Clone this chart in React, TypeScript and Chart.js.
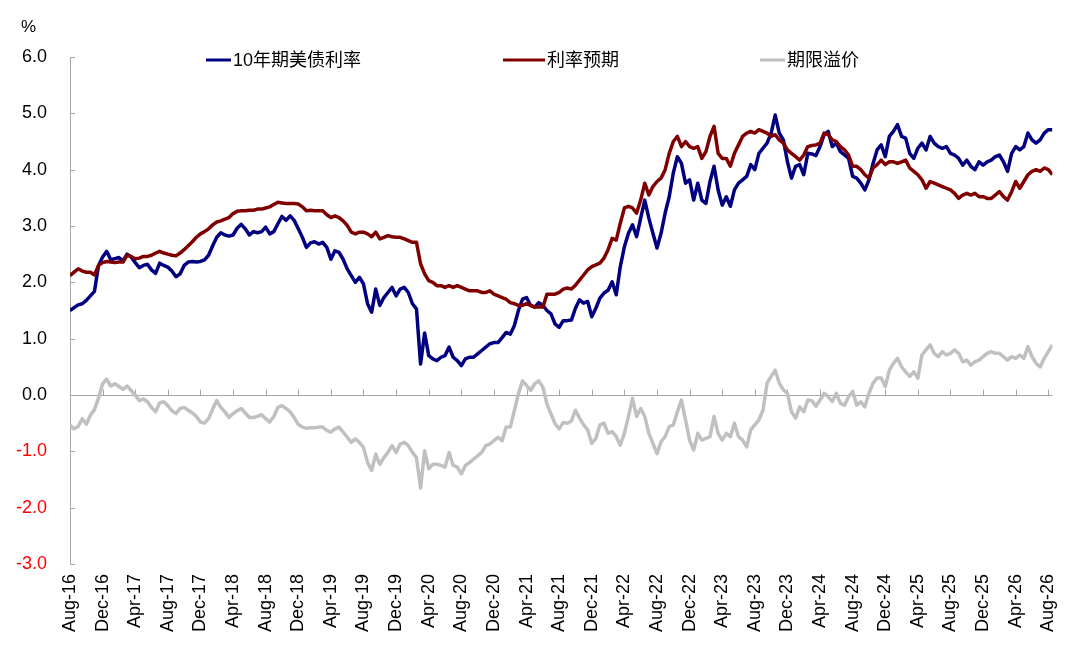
import React, { useEffect, useRef } from "react";
import { Chart, registerables } from "chart.js";

Chart.register(...registerables);

// x-axis tick labels, one every 4 months starting Aug-16
const tickLabels = [
  "Aug-16", "Dec-16", "Apr-17", "Aug-17", "Dec-17", "Apr-18", "Aug-18", "Dec-18",
  "Apr-19", "Aug-19", "Dec-19", "Apr-20", "Aug-20", "Dec-20", "Apr-21", "Aug-21",
  "Dec-21", "Apr-22", "Aug-22", "Dec-22", "Apr-23", "Aug-23", "Dec-23", "Apr-24",
  "Aug-24", "Dec-24", "Apr-25", "Aug-25", "Dec-25", "Apr-26", "Aug-26",
];
const monthsPerTick = 4;
const monthsPerObservation = 0.5; // half-monthly observations from Aug-16

const seriesNames = ["10年期美债利率", "利率预期", "期限溢价"];
const seriesColors = ["#000080", "#800000", "#c0c0c0"];

const yield10y = [
  1.50, 1.55, 1.60, 1.62, 1.68, 1.76, 1.84, 2.30, 2.45, 2.55,
  2.40, 2.42, 2.44, 2.38, 2.50, 2.45, 2.35, 2.26, 2.30, 2.32,
  2.22, 2.16, 2.34, 2.30, 2.27, 2.20, 2.10, 2.15, 2.30, 2.36,
  2.37, 2.36, 2.37, 2.40, 2.48, 2.65, 2.80, 2.88, 2.84, 2.82,
  2.84, 2.96, 3.03, 2.95, 2.84, 2.90, 2.88, 2.90, 2.98, 2.86,
  2.90, 3.04, 3.17, 3.10, 3.18, 3.10, 2.95, 2.80, 2.62, 2.70,
  2.72, 2.68, 2.71, 2.62, 2.41, 2.56, 2.53, 2.41, 2.24, 2.12,
  2.00, 2.09, 1.97, 1.62, 1.47, 1.88, 1.59, 1.73, 1.82, 1.91,
  1.76, 1.88, 1.91, 1.82, 1.62, 1.53, 0.55, 1.10, 0.70, 0.64,
  0.61, 0.67, 0.70, 0.85, 0.67, 0.61, 0.52, 0.64, 0.67, 0.67,
  0.73, 0.79, 0.85, 0.91, 0.93, 0.93, 1.02, 1.11, 1.08, 1.23,
  1.50, 1.70, 1.73, 1.59, 1.56, 1.64, 1.59, 1.50, 1.44, 1.26,
  1.20, 1.32, 1.32, 1.33, 1.54, 1.69, 1.63, 1.66, 1.39, 1.54,
  1.72, 1.81, 1.86, 2.01, 1.78, 2.28, 2.63, 2.87, 3.02, 2.81,
  3.14, 3.46, 3.14, 2.87, 2.61, 2.87, 3.23, 3.52, 3.94, 4.23,
  4.11, 3.76, 3.82, 3.46, 3.76, 3.46, 3.40, 3.79, 4.06, 3.64,
  3.37, 3.52, 3.35, 3.64, 3.76, 3.82, 3.88, 4.09, 4.00, 4.29,
  4.38, 4.47, 4.65, 4.97, 4.65, 4.53, 4.14, 3.85, 4.06, 4.09,
  3.91, 4.29, 4.28, 4.25, 4.41, 4.62, 4.68, 4.41, 4.47, 4.32,
  4.26, 4.20, 3.88, 3.85, 3.76, 3.64, 3.82, 4.11, 4.35, 4.44,
  4.23, 4.59, 4.68, 4.80, 4.59, 4.56, 4.29, 4.20, 4.38, 4.47,
  4.35, 4.59, 4.47, 4.41, 4.38, 4.41, 4.29, 4.26, 4.20, 4.08,
  4.17, 4.06, 4.00, 4.14, 4.08, 4.14, 4.17, 4.23, 4.26, 4.14,
  3.97, 4.29, 4.41, 4.35, 4.41, 4.65, 4.53, 4.47, 4.53, 4.65,
  4.71, 4.71,
];

const rateExpectation = [
  2.12, 2.18, 2.24, 2.20, 2.18, 2.18, 2.13, 2.30, 2.35, 2.37,
  2.36, 2.35, 2.36, 2.36, 2.48, 2.46, 2.42, 2.43, 2.46, 2.46,
  2.48, 2.52, 2.55, 2.52, 2.50, 2.48, 2.47, 2.52, 2.58, 2.65,
  2.72, 2.80, 2.86, 2.90, 2.95, 3.02, 3.07, 3.09, 3.12, 3.15,
  3.22, 3.26, 3.27, 3.27, 3.28, 3.28, 3.30, 3.30, 3.32, 3.34,
  3.38, 3.42, 3.41, 3.40, 3.40, 3.40, 3.39, 3.34, 3.27, 3.28,
  3.27, 3.27, 3.27, 3.20, 3.15, 3.18, 3.15, 3.09, 3.01, 2.89,
  2.86, 2.89, 2.89, 2.86, 2.81, 2.89, 2.77, 2.80, 2.83, 2.81,
  2.80, 2.80, 2.77, 2.74, 2.71, 2.71, 2.33, 2.15, 2.03, 2.00,
  1.94, 1.94, 1.91, 1.94, 1.91, 1.94, 1.91, 1.88, 1.85, 1.85,
  1.85, 1.82, 1.82, 1.85, 1.79, 1.76, 1.73, 1.70, 1.64, 1.62,
  1.59, 1.59, 1.62, 1.59, 1.56, 1.56, 1.56, 1.79, 1.79, 1.79,
  1.82, 1.88, 1.90, 1.88, 1.95, 2.04, 2.13, 2.22, 2.28, 2.31,
  2.34, 2.43, 2.58, 2.78, 2.75, 3.05, 3.32, 3.35, 3.32, 3.23,
  3.46, 3.76, 3.55, 3.70, 3.79, 3.85, 4.00, 4.29, 4.50, 4.59,
  4.41, 4.50, 4.41, 4.38, 4.41, 4.20, 4.32, 4.59, 4.77, 4.29,
  4.20, 4.20, 4.06, 4.29, 4.44, 4.59, 4.65, 4.68, 4.65, 4.71,
  4.68, 4.65, 4.59, 4.62, 4.53, 4.47, 4.35, 4.29, 4.23, 4.17,
  4.26, 4.41, 4.43, 4.44, 4.47, 4.65, 4.62, 4.53, 4.50, 4.41,
  4.35, 4.26, 4.06, 4.06, 4.00, 3.91, 3.85, 4.03, 4.09, 4.17,
  4.09, 4.14, 4.14, 4.11, 4.14, 4.17, 4.03, 3.97, 3.91, 3.82,
  3.67, 3.79, 3.76, 3.73, 3.70, 3.67, 3.64, 3.58, 3.49, 3.55,
  3.58, 3.55, 3.58, 3.52, 3.52, 3.49, 3.49, 3.55, 3.61, 3.52,
  3.46, 3.61, 3.79, 3.67, 3.79, 3.91, 3.97, 4.00, 3.97, 4.03,
  4.00, 3.91,
];

const termPremium = [
  -0.54, -0.60, -0.56, -0.42, -0.52, -0.36, -0.26, -0.05, 0.20, 0.28,
  0.16, 0.20, 0.15, 0.10, 0.16, 0.08, 0.00, -0.10, -0.07, -0.12,
  -0.22, -0.30, -0.14, -0.12, -0.19, -0.28, -0.33, -0.24, -0.22, -0.27,
  -0.32, -0.38, -0.48, -0.50, -0.42, -0.25, -0.10, -0.22, -0.30, -0.40,
  -0.33, -0.28, -0.24, -0.32, -0.40, -0.40, -0.38, -0.35, -0.42, -0.48,
  -0.38, -0.22, -0.19, -0.24, -0.30, -0.40, -0.52, -0.57, -0.59, -0.58,
  -0.58, -0.57, -0.57, -0.63, -0.66, -0.60, -0.57, -0.66, -0.75, -0.84,
  -0.78, -0.84, -0.93, -1.20, -1.34, -1.05, -1.23, -1.11, -1.02, -0.90,
  -1.02, -0.87, -0.84, -0.90, -1.02, -1.11, -1.65, -0.99, -1.31, -1.23,
  -1.23, -1.25, -1.28, -1.02, -1.25, -1.28, -1.40, -1.25, -1.20, -1.14,
  -1.08, -1.02, -0.90, -0.87, -0.81, -0.75, -0.81, -0.57, -0.57, -0.28,
  0.02, 0.25, 0.17, 0.08, 0.20, 0.25, 0.14, -0.16, -0.34, -0.51,
  -0.60, -0.49, -0.50, -0.46, -0.27, -0.41, -0.53, -0.62, -0.86, -0.77,
  -0.53, -0.50, -0.68, -0.65, -0.74, -0.89, -0.68, -0.38, -0.06, -0.38,
  -0.24, -0.38, -0.68, -0.86, -1.04, -0.83, -0.74, -0.56, -0.53, -0.30,
  -0.09, -0.44, -0.80, -0.98, -0.68, -0.80, -0.77, -0.74, -0.38, -0.68,
  -0.80, -0.68, -0.74, -0.50, -0.74, -0.80, -0.92, -0.62, -0.53, -0.44,
  -0.27, 0.21, 0.33, 0.44, 0.21, 0.09, 0.03, -0.30, -0.41, -0.21,
  -0.30, -0.09, -0.10, -0.20, -0.09, 0.03, -0.03, -0.12, 0.03, -0.15,
  -0.18, -0.03, 0.06, -0.18, -0.12, -0.21, 0.03, 0.21, 0.30, 0.30,
  0.15, 0.44, 0.56, 0.65, 0.50, 0.41, 0.33, 0.41, 0.30, 0.71,
  0.80, 0.89, 0.74, 0.68, 0.77, 0.71, 0.74, 0.80, 0.74, 0.59,
  0.62, 0.53, 0.59, 0.62, 0.68, 0.74, 0.77, 0.74, 0.74, 0.68,
  0.62, 0.68, 0.65, 0.71, 0.65, 0.86, 0.68, 0.56, 0.50, 0.65,
  0.77, 0.89,
];

const seriesValues = [yield10y, rateExpectation, termPremium];

const FONT = '"Liberation Sans", Arial, "Noto Sans CJK SC", sans-serif';
const AXIS_COLOR = "#a6a6a6";

// legend layout (style only): left x of line and its length
const legendLayout = [
  { x: 206, len: 25 },
  { x: 503, len: 42 },
  { x: 760, len: 25 },
];

const overlayPlugin = {
  id: "overlay",
  beforeDatasetsDraw(chart: any) {
    const { ctx, scales } = chart;
    const x = scales.x;
    const y = scales.y;
    const zeroY = Math.round(y.getPixelForValue(0)) + 0.5;
    ctx.save();
    ctx.strokeStyle = AXIS_COLOR;
    ctx.lineWidth = 1;
    x.ticks.forEach((t: any) => {
      const px = Math.round(x.getPixelForValue(t.value)) + 0.5;
      ctx.beginPath();
      ctx.moveTo(px, zeroY);
      ctx.lineTo(px, zeroY - 6);
      ctx.stroke();
    });
    y.ticks.forEach((t: any) => {
      const py = Math.round(y.getPixelForValue(t.value)) + 0.5;
      ctx.beginPath();
      ctx.moveTo(y.right, py);
      ctx.lineTo(y.right + 5, py);
      ctx.stroke();
    });
    ctx.restore();
  },
  afterDraw(chart: any) {
    const { ctx } = chart;
    ctx.save();
    ctx.font = `17px ${FONT}`;
    ctx.fillStyle = "#000";
    ctx.textBaseline = "middle";
    ctx.textAlign = "left";
    ctx.fillText("%", 21, 27);
    const ly = 60;
    chart.data.datasets.forEach((ds: any, i: number) => {
      const l = legendLayout[i];
      ctx.strokeStyle = ds.borderColor;
      ctx.lineWidth = 3;
      ctx.beginPath();
      ctx.moveTo(l.x, ly);
      ctx.lineTo(l.x + l.len, ly);
      ctx.stroke();
      ctx.font = `18px ${FONT}`;
      ctx.fillStyle = "#000";
      ctx.fillText(ds.label, l.x + l.len + 2, ly + 1);
    });
    ctx.restore();
  },
};

export default function App() {
  const canvasRef = useRef<HTMLCanvasElement | null>(null);

  useEffect(() => {
    document.body.style.margin = "0";
    const canvas = canvasRef.current;
    if (!canvas) return;

    const datasets = seriesValues.map((vals, s) => ({
      label: seriesNames[s],
      data: vals.map((v, i) => ({ x: i * monthsPerObservation, y: v })),
      borderColor: seriesColors[s],
      backgroundColor: seriesColors[s],
      borderWidth: 3.5,
      borderJoinStyle: "round" as const,
      pointRadius: 0,
      tension: 0,
      order: 3 - s,
    }));

    const chart = new Chart(canvas, {
      type: "line",
      data: { datasets },
      options: {
        animation: false,
        responsive: true,
        maintainAspectRatio: false,
        layout: { padding: { top: 57, right: 20, left: 0, bottom: 0 } },
        plugins: {
          legend: { display: false },
          tooltip: { enabled: false },
        },
        scales: {
          x: {
            type: "linear",
            min: 0,
            max: (tickLabels.length - 1) * monthsPerTick + monthsPerObservation,
            grid: { display: false, drawTicks: false },
            border: { display: false },
            afterBuildTicks: (scale: any) => {
              scale.ticks = tickLabels.map((_, k) => ({ value: k * monthsPerTick }));
            },
            afterFit: (scale: any) => {
              scale.height = 100;
            },
            ticks: {
              autoSkip: false,
              maxRotation: 90,
              minRotation: 90,
              padding: 10,
              color: "#000",
              font: { family: FONT, size: 18 },
              callback: (v: any) => {
                const k = Math.round(Number(v) / monthsPerTick);
                return tickLabels[k] ?? "";
              },
            },
          },
          y: {
            min: -3,
            max: 6,
            grid: {
              drawTicks: false,
              color: (c: any) => (c.tick && c.tick.value === 0 ? AXIS_COLOR : "rgba(0,0,0,0)"),
              lineWidth: 1,
            },
            border: { display: true, color: AXIS_COLOR, width: 1 },
            afterFit: (scale: any) => {
              scale.width = 70;
            },
            ticks: {
              stepSize: 1,
              padding: 23,
              font: { family: FONT, size: 18 },
              color: (c: any) => (c.tick && c.tick.value < 0 ? "#ff0000" : "#000000"),
              callback: (v: any) => Number(v).toFixed(1),
            },
          },
        },
      },
      plugins: [overlayPlugin],
    });

    return () => {
      chart.destroy();
    };
  }, []);

  return (
    <div style={{ position: "absolute", left: 0, top: 0, width: 1080, height: 664, background: "#fff" }}>
      <canvas ref={canvasRef} />
    </div>
  );
}
